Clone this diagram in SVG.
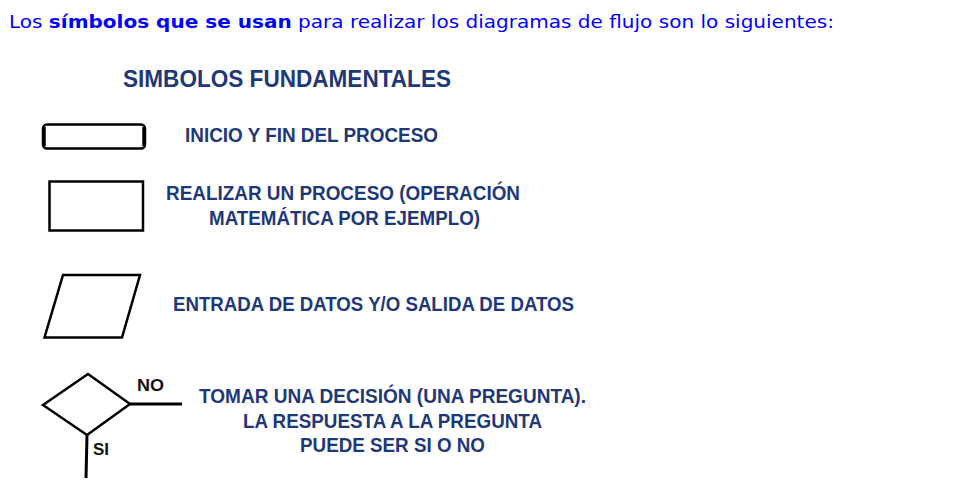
<svg xmlns="http://www.w3.org/2000/svg" width="963" height="487" viewBox="0 0 963 487">
  <style>
    .hdr { font-family: "DejaVu Sans", Verdana, sans-serif; font-size: 17px; fill: #0000ff; }
    .b { font-weight: bold; }
    .lbl { font-family: "Liberation Sans", Arial, sans-serif; font-weight: bold; font-size: 20.5px; fill: #1e3878; }
    .ttl { font-family: "Liberation Sans", Arial, sans-serif; font-weight: bold; font-size: 23.5px; fill: #1e3878; }
    .yn { font-family: "Liberation Sans", Arial, sans-serif; font-weight: bold; font-size: 16.5px; fill: #111; }
    .shape { fill: #fff; stroke: #000; stroke-width: 2.5; stroke-linejoin: miter; }
    .line { stroke: #000; stroke-width: 3; fill: none; }
  </style>
  <rect width="963" height="487" fill="#fff"/>
  <text class="hdr" x="9" y="28" textLength="825" lengthAdjust="spacingAndGlyphs">Los <tspan class="b">símbolos que se usan</tspan> para realizar los diagramas de flujo son lo siguientes:</text>

  <text class="ttl" x="123" y="87" textLength="328" lengthAdjust="spacingAndGlyphs">SIMBOLOS FUNDAMENTALES</text>

  <g id="terminal">
    <rect class="shape" x="43" y="124.5" width="102" height="24" rx="4" ry="4" stroke-width="2"/>
    <line x1="44" y1="127" x2="44" y2="146" stroke="#000" stroke-width="3.5"/>
    <line x1="144" y1="127" x2="144" y2="146" stroke="#000" stroke-width="3.5"/>
    <text class="lbl" x="185" y="142" textLength="253" lengthAdjust="spacingAndGlyphs">INICIO Y FIN DEL PROCESO</text>
  </g>

  <g id="process">
    <rect class="shape" x="49.5" y="181.5" width="93.5" height="49"/>
    <text class="lbl" x="166" y="200" textLength="354" lengthAdjust="spacingAndGlyphs">REALIZAR UN PROCESO (OPERACIÓN</text>
    <text class="lbl" x="209" y="225" textLength="271" lengthAdjust="spacingAndGlyphs">MATEMÁTICA POR EJEMPLO)</text>
  </g>

  <g id="io">
    <polygon class="shape" points="63,275 140,275 122,337.5 44.5,337.5" stroke-width="3"/>
    <text class="lbl" x="173" y="311" textLength="401" lengthAdjust="spacingAndGlyphs">ENTRADA DE DATOS Y/O SALIDA DE DATOS</text>
  </g>

  <g id="decision">
    <polygon class="shape" points="88,374 130,404 87,435 43,405" stroke-width="3"/>
    <text class="yn" x="137" y="391" textLength="27" lengthAdjust="spacingAndGlyphs">NO</text>
    <text class="yn" x="93" y="455" textLength="16" lengthAdjust="spacingAndGlyphs">SI</text>
    <text class="lbl" x="199" y="403" textLength="387" lengthAdjust="spacingAndGlyphs">TOMAR UNA DECISIÓN (UNA PREGUNTA).</text>
    <text class="lbl" x="243" y="428" textLength="299" lengthAdjust="spacingAndGlyphs">LA RESPUESTA A LA PREGUNTA</text>
    <text class="lbl" x="300" y="452" textLength="185" lengthAdjust="spacingAndGlyphs">PUEDE SER SI O NO</text>
  </g>

  <g id="connectors">
    <line class="line" x1="130" y1="404" x2="182" y2="404"/>
    <line class="line" x1="87" y1="435" x2="86" y2="478"/>
  </g>
</svg>
